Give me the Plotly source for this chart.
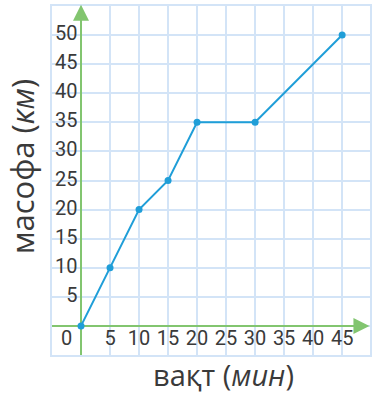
import plotly.graph_objects as go

# data
time_min = [0, 5, 10, 15, 20, 30, 45]
distance_km = [0, 10, 20, 25, 35, 35, 50]

x_ticks = [5, 10, 15, 20, 25, 30, 35, 40, 45]
y_ticks = [5, 10, 15, 20, 25, 30, 35, 40, 45, 50]

LINE = "#1f9ed8"
GRID = "#d3e4f7"
GREEN = "#82c56f"
TEXT = "#3a3a3a"
TICK_FONT = dict(family="Roboto", size=20, color=TEXT)
TITLE_FONT = dict(family="Open Sans", size=31, color=TEXT)

fig = go.Figure()

# green axes (drawn as traces so the data line sits on top)
fig.add_trace(go.Scatter(x=[0, 0], y=[-5, 53.5], mode="lines",
                         line=dict(color=GREEN, width=2), hoverinfo="skip", showlegend=False))
fig.add_trace(go.Scatter(x=[-5, 48.5], y=[0, 0], mode="lines",
                         line=dict(color=GREEN, width=2), hoverinfo="skip", showlegend=False))
fig.add_annotation(x=0, y=55.2, ax=0, ay=52, xref="x", yref="y", axref="x", ayref="y",
                   showarrow=True, arrowhead=2, arrowsize=1.6, arrowwidth=2,
                   arrowcolor=GREEN, text="")
fig.add_annotation(x=49.7, y=0, ax=47, ay=0, xref="x", yref="y", axref="x", ayref="y",
                   showarrow=True, arrowhead=2, arrowsize=1.6, arrowwidth=2,
                   arrowcolor=GREEN, text="")

# tick labels sit inside the grid, next to the green axes
fig.add_trace(go.Scatter(
    x=x_ticks, y=[-2.5] * len(x_ticks),
    text=[str(v) for v in x_ticks],
    mode="text", textposition="middle center", textfont=TICK_FONT,
    hoverinfo="skip", showlegend=False,
))
fig.add_trace(go.Scatter(
    x=[-0.6] * len(y_ticks), y=y_ticks,
    text=[str(v) for v in y_ticks],
    mode="text", textposition="middle left", textfont=TICK_FONT,
    hoverinfo="skip", showlegend=False,
))
fig.add_trace(go.Scatter(
    x=[-2.5], y=[-2.5], text=["0"],
    mode="text", textposition="middle center", textfont=TICK_FONT,
    hoverinfo="skip", showlegend=False,
))

fig.add_trace(go.Scatter(
    x=time_min, y=distance_km,
    mode="lines+markers",
    line=dict(color=LINE, width=2),
    marker=dict(color=LINE, size=7),
    showlegend=False,
))

fig.add_annotation(text="масофа (<i>км</i>)", xref="paper", yref="paper",
                   x=-0.095, y=0.54, xanchor="center", yanchor="middle",
                   textangle=-90, showarrow=False, font=TITLE_FONT)
fig.add_annotation(text="вақт (<i>мин</i>)", xref="paper", yref="paper",
                   x=0.54, y=-0.056, xanchor="center", yanchor="middle",
                   showarrow=False, font=dict(family="Open Sans", size=29, color=TEXT))

fig.update_layout(
    width=374, height=394,
    margin=dict(l=52, r=2, t=6, b=39),
    paper_bgcolor="white", plot_bgcolor="white",
    xaxis=dict(range=[-5, 49.8], tick0=0, dtick=5, showgrid=True, gridcolor=GRID,
               gridwidth=1.5, showticklabels=False, zeroline=False,
               showline=True, linecolor=GRID, linewidth=1.5, mirror=True, fixedrange=True),
    yaxis=dict(range=[-5, 55], tick0=0, dtick=5, showgrid=True, gridcolor=GRID,
               gridwidth=1.5, showticklabels=False, zeroline=False,
               showline=True, linecolor=GRID, linewidth=1.5, mirror=True, fixedrange=True),
)

# page has a default 8px body margin; drop it so the figure fills the window
fig.write_html("out.html", config={"displayModeBar": False},
               post_script="document.body.style.margin='0';")
